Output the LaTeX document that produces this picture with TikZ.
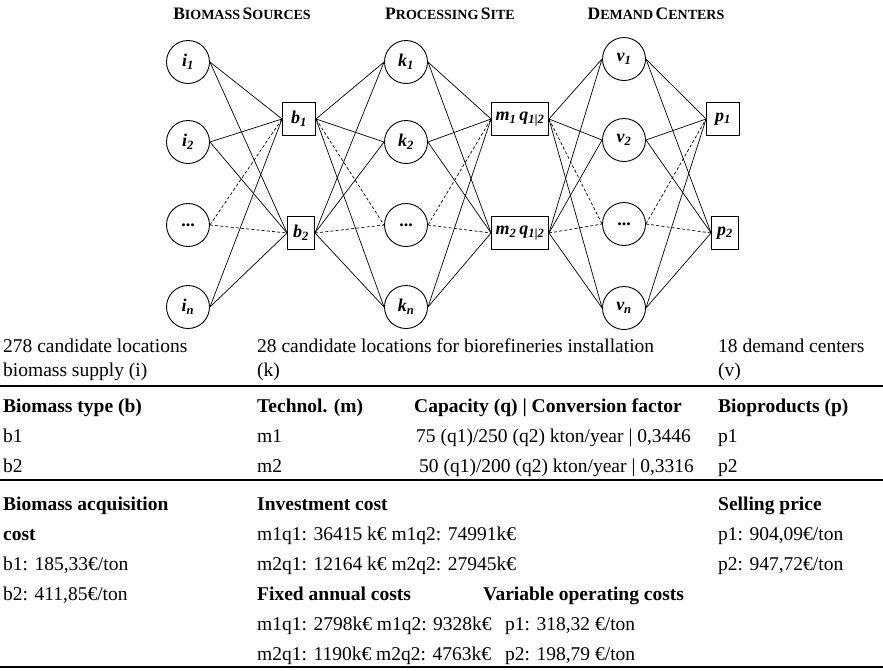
\documentclass[tikz,border=0pt]{standalone}
\usepackage{fontspec}
\setmainfont{Liberation Serif}
% fake small capitals: large initial, smaller capitals after it
\newcommand\capsc[2]{{\fontsize{17.5}{17.5}\selectfont #1}{\fontsize{14}{14}\selectfont #2}}
\begin{document}
\begin{tikzpicture}[x=1pt,y=-1pt,
  site/.style={circle,draw,line width=0.9pt,minimum size=43pt,inner sep=0pt,
    font=\fontsize{18}{18}\selectfont\bfseries\itshape},
  hub/.style={rectangle,draw,line width=0.9pt,minimum height=33pt,inner sep=1pt,
    font=\fontsize{18}{18}\selectfont\bfseries\itshape},
  link/.style={line width=0.7pt},
  dlink/.style={line width=0.7pt,dash pattern=on 3pt off 2.2pt},
  head/.style={anchor=base,inner sep=0pt,font=\bfseries},
  cell/.style={anchor=base west,inner sep=0pt,font=\fontsize{19.5}{19.5}\selectfont},
  bcell/.style={anchor=base west,inner sep=0pt,font=\fontsize{19.5}{19.5}\selectfont\bfseries},
  rulethick/.style={line width=2pt},
  rulethin/.style={line width=1.4pt},
]
\useasboundingbox (0,0) rectangle (883,670);

% column headings
\node[head] (hsrc) at (242,19) {\capsc{B}{IOMASS} \capsc{S}{OURCES}};
\node[head] (hproc) at (450,19) {\capsc{P}{ROCESSING} \capsc{S}{ITE}};
\node[head] (hdem) at (656,19) {\capsc{D}{EMAND} \capsc{C}{ENTERS}};

% biomass sources
\node[site] (i1) at (188,62)  {i\textsubscript{1}};
\node[site] (i2) at (188,142) {i\textsubscript{2}};
\node[site] (i3) at (188,225) {\normalfont\bfseries...};
\node[site] (in) at (188,307) {i\textsubscript{n}};
% biomass types
\node[hub,minimum width=33pt] (b1) at (299,119) {b\textsubscript{1}};
\node[hub,minimum width=27pt] (b2) at (301,233) {b\textsubscript{2}};
% processing sites
\node[site] (k1) at (406,62)  {k\textsubscript{1}};
\node[site] (k2) at (406,142) {k\textsubscript{2}};
\node[site] (k3) at (406,225) {\normalfont\bfseries...};
\node[site] (kn) at (406,307) {k\textsubscript{n}};
% technologies and capacities
\node[hub,minimum width=57pt] (m1) at (520,119) {m\textsubscript{1}\,q\textsubscript{1|2}};
\node[hub,minimum width=57pt] (m2) at (520,233) {m\textsubscript{2}\,q\textsubscript{1|2}};
% demand centers
\node[site] (v1) at (624,59)  {v\textsubscript{1}};
\node[site] (v2) at (624,140) {v\textsubscript{2}};
\node[site] (v3) at (624,224) {\normalfont\bfseries...};
\node[site] (vn) at (624,308) {v\textsubscript{n}};
% bioproducts
\node[hub,minimum width=33pt] (p1) at (723,119) {p\textsubscript{1}};
\node[hub,minimum width=27pt] (p2) at (725,233) {p\textsubscript{2}};

% flows between the layers
\foreach \s/\st in {i1/link,i2/link,i3/dlink,in/link}
  \foreach \t in {b1,b2} \draw[\st] (\s.east) -- (\t.west);
\foreach \t/\st in {k1/link,k2/link,k3/dlink,kn/link}
  \foreach \s in {b1,b2} \draw[\st] (\s.east) -- (\t.west);
\foreach \s/\st in {k1/link,k2/link,k3/dlink,kn/link}
  \foreach \t in {m1,m2} \draw[\st] (\s.east) -- (\t.west);
\foreach \t/\st in {v1/link,v2/link,v3/dlink,vn/link}
  \foreach \s in {m1,m2} \draw[\st] (\s.east) -- (\t.west);
\foreach \s/\st in {v1/link,v2/link,v3/dlink,vn/link}
  \foreach \t in {p1,p2} \draw[\st] (\s.east) -- (\t.west);

% data table
\node[cell] (a1) at (3,352) {278 candidate locations};
\node[cell] (a2) at (257,352) {28 candidate locations for biorefineries installation};
\node[cell] (a3) at (718,352) {18 demand centers};
\node[cell] (a4) at (3,376) {biomass supply (i)};
\node[cell] (a5) at (257,376) {(k)};
\node[cell] (a6) at (718,376) {(v)};
\draw[rulethick] (0,386) -- (883,386);

\node[bcell] (c1) at (3,412) {Biomass type (b)};
\node[bcell] (c2) at (257,412) {Technol. (m)};
\node[bcell] (c3) at (414,412) {Capacity (q) | Conversion factor};
\node[bcell] (c4) at (718,412) {Bioproducts (p)};
\node[cell] (c5) at (3,442) {b1};
\node[cell] (c6) at (257,442) {m1};
\node[cell] (c7) at (416,442) {75 (q1)/250 (q2) kton/year | 0,3446};
\node[cell] (c8) at (718,442) {p1};
\node[cell] (c9) at (3,472) {b2};
\node[cell] (c10) at (257,472) {m2};
\node[cell] (c11) at (419,472) {50 (q1)/200 (q2) kton/year | 0,3316};
\node[cell] (c12) at (718,472) {p2};
\draw[rulethin] (0,480) -- (883,480);

\node[bcell] (d1) at (3,510) {Biomass acquisition};
\node[bcell] (d2) at (257,510) {Investment cost};
\node[bcell] (d3) at (718,510) {Selling price};
\node[bcell] (d4) at (3,540) {cost};
\node[cell] (d5) at (257,540) {m1q1: 36415 k€ m1q2: 74991k€};
\node[cell] (d6) at (718,540) {p1: 904,09€/ton};
\node[cell] (d7) at (3,570) {b1: 185,33€/ton};
\node[cell] (d8) at (257,570) {m2q1: 12164 k€ m2q2: 27945k€};
\node[cell] (d9) at (718,570) {p2: 947,72€/ton};
\node[cell] (d10) at (3,600) {b2: 411,85€/ton};
\node[bcell] (d11) at (257,600) {Fixed annual costs};
\node[bcell] (d12) at (483,600) {Variable operating costs};
\node[cell] (d13) at (257,630) {m1q1: 2798k€ m1q2: 9328k€};
\node[cell] (d14) at (505,630) {p1: 318,32 €/ton};
\node[cell] (d15) at (257,660) {m2q1: 1190k€ m2q2: 4763k€};
\node[cell] (d16) at (505,660) {p2: 198,79 €/ton};
\draw[rulethin] (0,667) -- (883,667);
\end{tikzpicture}
\end{document}
